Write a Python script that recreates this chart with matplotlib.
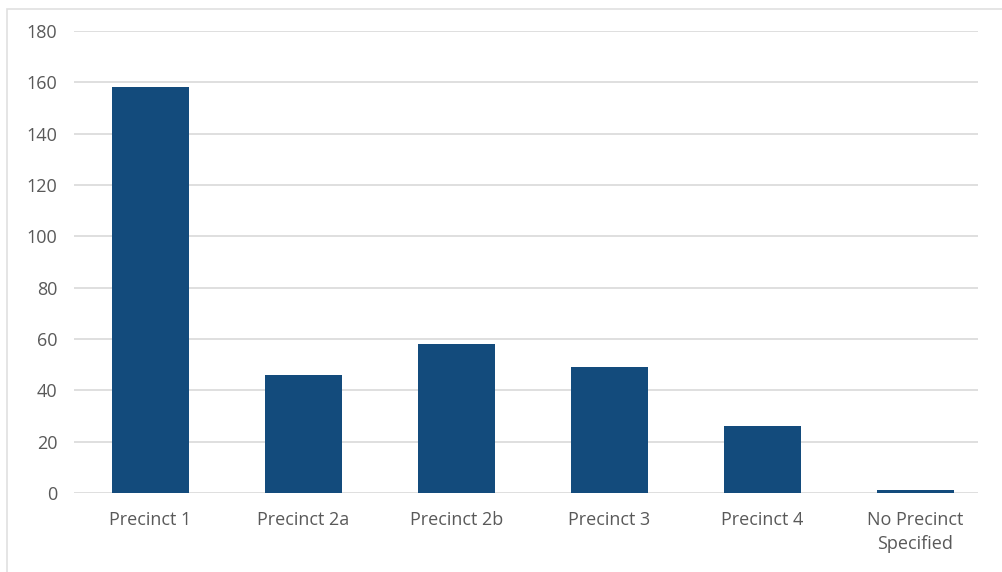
import matplotlib
matplotlib.use("Agg")
import matplotlib.pyplot as plt
from matplotlib.patches import Rectangle

categories = ["Precinct 1", "Precinct 2a", "Precinct 2b", "Precinct 3", "Precinct 4", "No Precinct\nSpecified"]
counts = [158, 46, 58, 49, 26, 1]
y_ticks = [0, 20, 40, 60, 80, 100, 120, 140, 160, 180]

BAR_COLOR = "#134b7c"
GRID_COLOR = "#d9d9d9"
TEXT_COLOR = "#595959"

plt.rcParams["font.family"] = ["Open Sans", "DejaVu Sans"]

fig = plt.figure(figsize=(10.02, 5.72), dpi=100)
ax = fig.add_axes([74 / 1002, 1 - 493 / 572, (978 - 74) / 1002, (493 - 31) / 572])

x = list(range(len(categories)))
ax.bar(x, counts, width=0.5, color=BAR_COLOR, zorder=3)

ax.set_ylim(0, 180)
ax.set_xlim(-0.5, 5.41)
ax.set_yticks(y_ticks)
ax.set_xticks(x)
ax.set_xticklabels(categories, linespacing=1.4)
ax.grid(axis="y", color=GRID_COLOR, linewidth=1.2, zorder=0)
ax.tick_params(axis="both", length=0, labelsize=13, labelcolor=TEXT_COLOR)
ax.tick_params(axis="y", pad=12)
ax.tick_params(axis="x", pad=13)
for spine in ax.spines.values():
    spine.set_visible(False)

# thin border around the chart area
fig.patches.append(Rectangle((7 / 1002, -0.1), 1.2, 1 - 9 / 572 + 0.1,
                             transform=fig.transFigure, fill=False,
                             edgecolor="#e0e0e0", linewidth=1.2))

fig.savefig("out.png", dpi=100)
